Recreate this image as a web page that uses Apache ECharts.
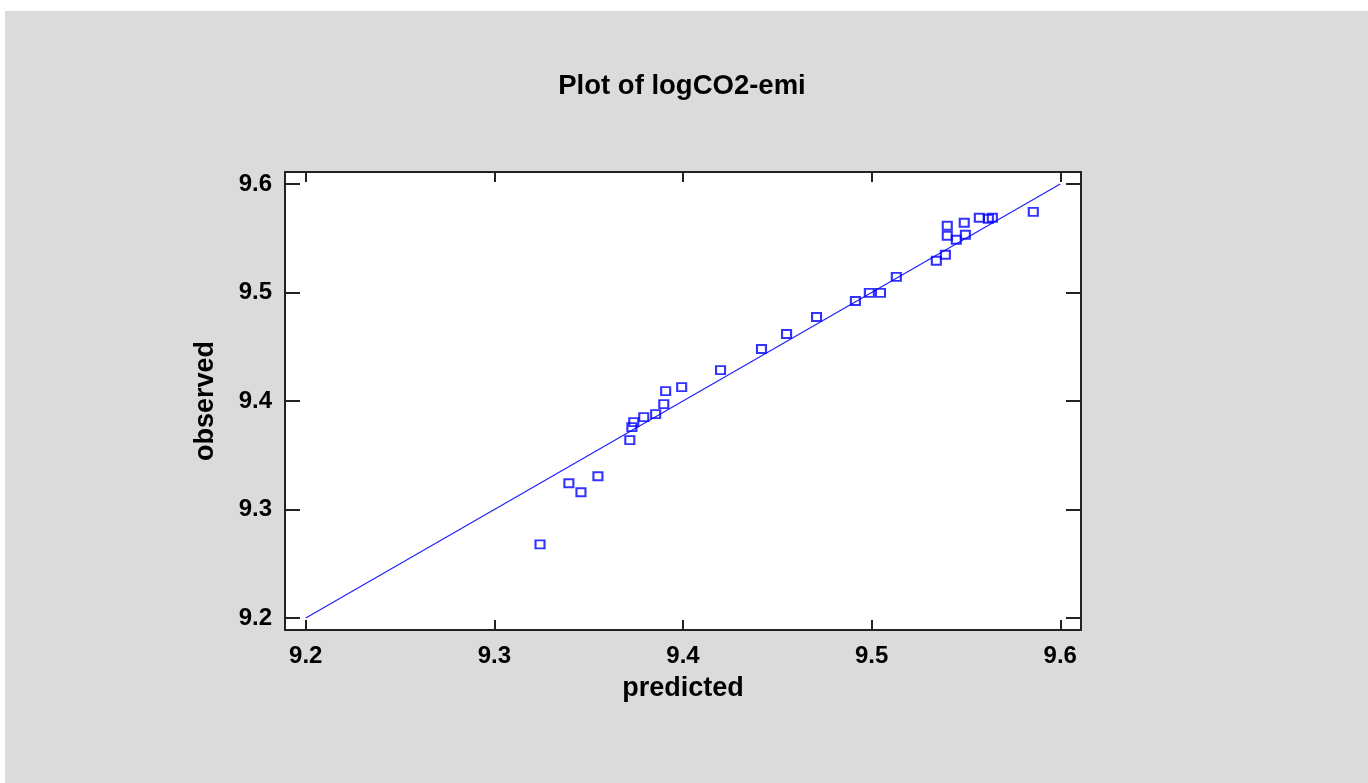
<!DOCTYPE html>
<html>
<head>
<meta charset="utf-8">
<script src="https://cdn.jsdelivr.net/npm/echarts@6/dist/echarts.min.js"></script>
<style>
  html, body { margin: 0; padding: 0; background: #fff; }
  #chart { position: absolute; left: 5px; top: 11px; width: 1363px; height: 772px; background: #dbdbdb; }
</style>
</head>
<body>
<div id="chart"></div>
<script>
// predicted vs observed
const predicted = [9.3242, 9.3395, 9.3459, 9.3549, 9.3718, 9.3729, 9.3739, 9.3792, 9.3855, 9.3898,
  9.3908, 9.3993, 9.4199, 9.4416, 9.4549, 9.4708, 9.4914, 9.4988, 9.5047, 9.5131,
  9.5343, 9.5391, 9.5401, 9.5401, 9.5449, 9.5491, 9.5497, 9.5571, 9.5619, 9.5640, 9.5857];
const observed = [9.2679, 9.3242, 9.3159, 9.3307, 9.3639, 9.3759, 9.3805, 9.3851, 9.3879, 9.3971,
  9.4091, 9.4128, 9.4285, 9.4479, 9.4617, 9.4774, 9.4922, 9.4996, 9.4996, 9.5144,
  9.5292, 9.5347, 9.5615, 9.5523, 9.5486, 9.5642, 9.5532, 9.5688, 9.5679, 9.5688, 9.5743];
// fitted line (y = x)
const lineX = [9.2, 9.6];
const lineY = [9.2, 9.6];
// tick positions, same on both axes
const ticks = [9.2, 9.3, 9.4, 9.5, 9.6];

const axisMin = 9.189;
const axisMax = 9.611;
const black = '#000';
const font = 'Liberation Sans, Arial, sans-serif';

const frameAxis = (tickLen, extra) => Object.assign({
  type: 'value',
  min: axisMin,
  max: axisMax,
  splitLine: { show: false },
  axisLine: { show: true, onZero: false, lineStyle: { color: '#222', width: 2 } },
  axisTick: { show: true, inside: true, length: tickLen, customValues: ticks, lineStyle: { color: '#222', width: 2 } },
  axisLabel: { show: false },
}, extra);

const tickLabel = (margin) => ({
  show: true, margin, color: black, fontFamily: font, fontWeight: 'bold', fontSize: 24,
  customValues: ticks,
  formatter: (v) => v.toFixed(1),
});

const nameStyle = { fontFamily: font, fontWeight: 'bold', fontSize: 27, color: black };

const option = {
  backgroundColor: '#dbdbdb',
  animation: false,
  title: {
    text: 'Plot of logCO2-emi',
    left: 672,
    textAlign: 'center',
    top: 56,
    textStyle: { fontFamily: font, fontWeight: 'bold', fontSize: 27.5, color: black },
  },
  grid: { left: 280, top: 161, width: 796, height: 458, backgroundColor: '#fff', show: true, borderWidth: 0 },
  xAxis: [
    frameAxis(10, {
      position: 'bottom',
      name: 'predicted',
      nameLocation: 'middle',
      nameGap: 45,
      nameTextStyle: nameStyle,
      axisLabel: tickLabel(14),
    }),
    frameAxis(10, { position: 'top' }),
  ],
  yAxis: [
    frameAxis(15, {
      position: 'left',
      name: 'observed',
      nameLocation: 'middle',
      nameRotate: 90,
      nameGap: 66,
      nameTextStyle: nameStyle,
      axisLabel: tickLabel(13),
    }),
    frameAxis(15, { position: 'right' }),
  ],
  series: [
    {
      type: 'line',
      data: lineX.map((x, i) => [x, lineY[i]]),
      symbol: 'none',
      lineStyle: { color: '#2020ff', width: 1.2 },
      z: 2,
    },
    {
      type: 'scatter',
      data: predicted.map((x, i) => [x, observed[i]]),
      symbol: 'rect',
      symbolSize: [9, 8],
      itemStyle: { color: 'rgba(0,0,0,0)', borderColor: '#0000ff', borderWidth: 2 },
      z: 3,
    },
  ],
};

echarts.init(document.getElementById('chart')).setOption(option);
</script>
</body>
</html>
